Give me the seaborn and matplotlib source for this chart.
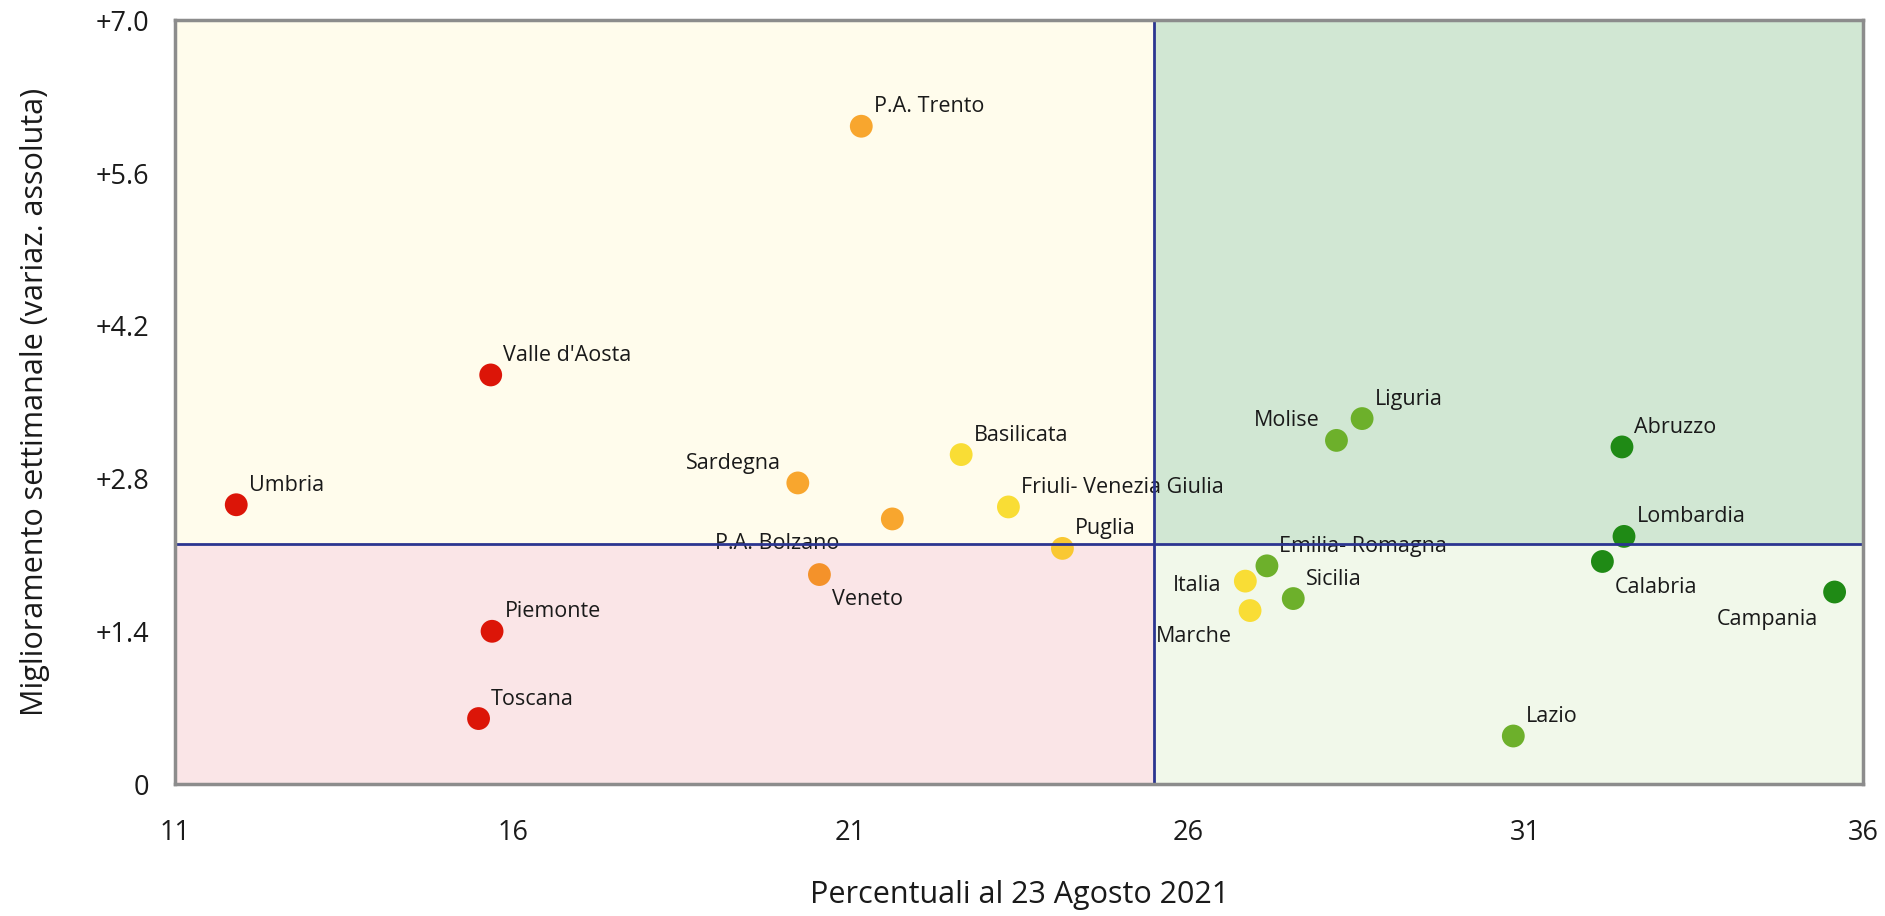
import matplotlib
matplotlib.use("Agg")
import matplotlib.pyplot as plt
import matplotlib.ticker as mticker
import seaborn as sns
import pandas as pd

# Regional data
regioni = ["Umbria", "Valle d'Aosta", "Piemonte", "Toscana", "P.A. Trento",
           "Sardegna", "P.A. Bolzano", "Veneto", "Basilicata",
           "Friuli- Venezia Giulia", "Puglia", "Liguria", "Molise", "Abruzzo",
           "Lombardia", "Calabria", "Campania", "Emilia- Romagna", "Italia",
           "Marche", "Sicilia", "Lazio"]
percentuali = [11.9, 15.67, 15.69, 15.49, 21.16,
               20.22, 21.62, 20.54, 22.64,
               23.34, 24.14, 28.58, 28.20, 32.43,
               32.46, 32.14, 35.58, 27.17, 26.85,
               26.92, 27.56, 30.82]
miglioramento = [2.56, 3.75, 1.40, 0.60, 6.03,
                 2.76, 2.43, 1.92, 3.02,
                 2.54, 2.16, 3.35, 3.15, 3.09,
                 2.27, 2.04, 1.76, 2.00, 1.86,
                 1.59, 1.70, 0.44]
fascia = ["rosso", "rosso", "rosso", "rosso", "arancione",
          "arancione", "arancione", "arancione scuro", "giallo",
          "giallo", "giallo scuro", "verde chiaro", "verde chiaro", "verde",
          "verde", "verde", "verde", "verde chiaro", "giallo",
          "giallo", "verde chiaro", "verde chiaro"]

soglia_x = 25.5
soglia_y = 2.2
x_ticks = [11, 16, 21, 26, 31, 36]
y_ticks = [0, 1.4, 2.8, 4.2, 5.6, 7.0]

palette = {
    "rosso": "#dc1508",
    "arancione": "#f8a62e",
    "arancione scuro": "#f4922a",
    "giallo": "#f9dd35",
    "giallo scuro": "#f9c832",
    "verde chiaro": "#6db02b",
    "verde": "#1f8a15",
}

# label placement: (dx, dy) in points and horizontal alignment
pos_etichette = {
    "Sardegna": (-12, 14, "right"),
    "Molise": (-12, 14, "right"),
    "Italia": (-17, -3, "right"),
    "Marche": (-13, -19, "right"),
    "Campania": (-12, -20, "right"),
    "P.A. Bolzano": (-38, -18, "right"),
    "Veneto": (9, -18, "left"),
    "Calabria": (9, -19, "left"),
}
default_pos = (9, 14, "left")

df = pd.DataFrame({"regione": regioni, "x": percentuali,
                   "y": miglioramento, "fascia": fascia})

sns.set_theme(style="white")
plt.rcParams["font.family"] = ["Open Sans", "DejaVu Sans"]

fig = plt.figure(figsize=(18.85, 9.16), dpi=100)
ax = fig.add_axes([0.0931, 0.1441, 0.8952, 0.8336])

x0, x1 = x_ticks[0], x_ticks[-1]
y0, y1 = y_ticks[0], y_ticks[-1]
ax.set_xlim(x0, x1)
ax.set_ylim(y0, y1)

# quadrant backgrounds
ax.fill_between([x0, soglia_x], soglia_y, y1, color="#fffcec", zorder=0, lw=0)
ax.fill_between([soglia_x, x1], soglia_y, y1, color="#d1e7d3", zorder=0, lw=0)
ax.fill_between([x0, soglia_x], y0, soglia_y, color="#fae5e7", zorder=0, lw=0)
ax.fill_between([soglia_x, x1], y0, soglia_y, color="#f1f8ea", zorder=0, lw=0)

sns.scatterplot(data=df, x="x", y="y", hue="fascia", palette=palette,
                s=270, linewidth=0, legend=False, ax=ax, zorder=3)

for r, xv, yv in zip(regioni, percentuali, miglioramento):
    dx, dy, ha = pos_etichette.get(r, default_pos)
    ax.annotate(r, (xv, yv), xytext=(dx, dy), textcoords="offset points",
                ha=ha, va="center", fontsize=15.5, color="#1a1a1a", zorder=4)

ax.axvline(soglia_x, color="#2b3590", lw=2, zorder=5)
ax.axhline(soglia_y, color="#2b3590", lw=2, zorder=5)

ax.set_xticks(x_ticks)
ax.set_yticks(y_ticks)
ax.yaxis.set_major_formatter(mticker.FuncFormatter(
    lambda v, _: "0" if v == 0 else f"+{v:.1f}"))
ax.tick_params(axis="both", which="major", direction="out", length=11,
               width=2, color="#8c8c8c", labelsize=19.5, labelcolor="#1a1a1a",
               pad=8)
ax.tick_params(axis="x", pad=14)

for s in ax.spines.values():
    s.set_color("#8c8c8c")
    s.set_linewidth(2.5)
    s.set_zorder(6)

ax.set_xlabel("Percentuali al 23 Agosto 2021", fontsize=22, color="#1a1a1a",
              labelpad=24)
ax.set_ylabel("Miglioramento settimanale (variaz. assoluta)", fontsize=22,
              color="#1a1a1a", labelpad=33)

fig.savefig("out.png", dpi=100)
